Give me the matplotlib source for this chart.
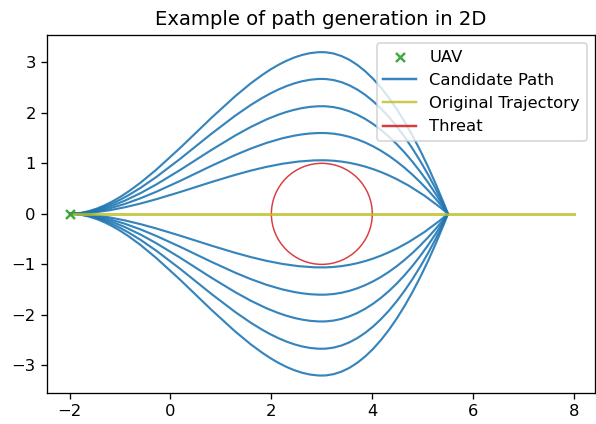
import matplotlib.pyplot as plt
from matplotlib.lines import Line2D
from matplotlib.patches import Circle, PathPatch
from matplotlib.path import Path

UAV_POS = (-2.0, 0.0)
GOAL_X = 5.5
PEAK_X = 3.0
PEAK_HEIGHTS = [3.2, 2.67, 2.13, 1.6, 1.06, -1.06, -1.6, -2.13, -2.67, -3.2]
TRAJECTORY_X = [-2.0, 8.0]
TRAJECTORY_Y = [0.0, 0.0]
THREAT_CENTER = (3.0, 0.0)
THREAT_RADIUS = 1.0

DPI = 118


def candidate_path(h):
    x0, y0 = UAV_POS
    # smooth rise to the peak, then a parabolic drop to the goal
    verts = [
        (x0, y0),
        (x0 + (PEAK_X - x0) / 3, y0),
        (PEAK_X - (PEAK_X - x0) / 3, h),
        (PEAK_X, h),
        (PEAK_X + (GOAL_X - PEAK_X) / 3, h),
        (PEAK_X + 2 * (GOAL_X - PEAK_X) / 3, 2 * h / 3),
        (GOAL_X, 0.0),
    ]
    codes = [Path.MOVETO] + [Path.CURVE4] * 6
    return Path(verts, codes)


def main() -> None:
    fig = plt.figure(figsize=(596 / DPI, 424 / DPI), dpi=DPI)
    ax = fig.add_axes([0.0794, 0.0738, 0.9186, 0.8437])

    for h in PEAK_HEIGHTS:
        ax.add_patch(PathPatch(candidate_path(h), facecolor="none",
                               edgecolor="tab:blue", lw=1.3, alpha=0.9))

    ax.plot(TRAJECTORY_X, TRAJECTORY_Y, color="tab:olive", lw=1.8, alpha=0.8)
    ax.add_patch(Circle(THREAT_CENTER, THREAT_RADIUS, facecolor="none",
                        edgecolor="tab:red", lw=0.9, alpha=0.9))
    uav = ax.scatter([UAV_POS[0]], [UAV_POS[1]], marker="x",
                     color="tab:green", s=30, zorder=5, alpha=0.9)

    handles = [
        uav,
        Line2D([], [], color="tab:blue", lw=1.5, alpha=0.9),
        Line2D([], [], color="tab:olive", lw=1.5, alpha=0.8),
        Line2D([], [], color="tab:red", lw=1.5, alpha=0.9),
    ]
    labels = ["UAV", "Candidate Path", "Original Trajectory", "Threat"]
    ax.legend(handles, labels, loc="upper right")

    ax.set_xlim(-2.44, 8.41)
    ax.set_ylim(-3.54, 3.54)
    ax.set_xticks([-2, 0, 2, 4, 6, 8])
    ax.set_title("Example of path generation in 2D")

    fig.savefig("out.png", dpi=DPI)
    plt.close(fig)


if __name__ == "__main__":
    main()
